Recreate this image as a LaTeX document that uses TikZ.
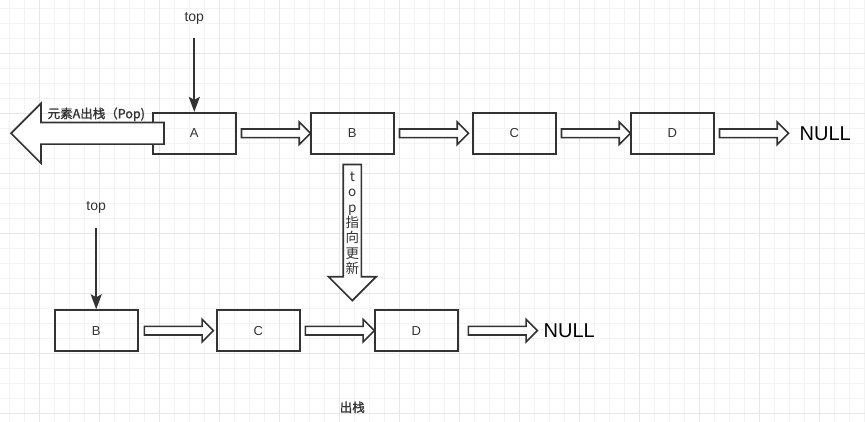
\documentclass[tikz,border=0pt]{standalone}
\usepackage{fontspec}
\setmainfont{Liberation Sans}
\newfontfamily\cjk{Noto Sans CJK SC}
\newfontfamily\cjkm[FakeBold=1.3]{Noto Sans CJK SC}
\usetikzlibrary{shapes.arrows,positioning,arrows.meta}
\definecolor{ink}{HTML}{333333}
\definecolor{gridminor}{HTML}{F3F3F3}
\definecolor{gridmajor}{HTML}{E6E6E6}
\tikzstyle{block} = [draw=ink, line width=1.8pt, rectangle, minimum height=41pt, minimum width=83pt, text=ink, font=\fontsize{13}{15}\selectfont]
\tikzstyle{hollow} = [draw=ink, line width=1.6pt, fill=white, single arrow, single arrow tip angle=90, minimum height=69pt, inner xsep=0pt, inner ysep=3.5pt, single arrow head extend=7pt]
\tikzstyle{bigleft} = [hollow, rotate=180, minimum height=153pt, inner ysep=10pt, single arrow head extend=19pt, line width=1.7pt]
\tikzstyle{bigdown} = [hollow, rotate=-90, minimum height=136pt, inner ysep=8.2pt, single arrow head extend=14.8pt, line width=1.7pt]
\tikzstyle{txt} = [text=ink, font=\fontsize{14}{16}\selectfont]
\tikzstyle{nulltxt} = [text=black, font=\fontsize{20}{24}\selectfont]
\tikzstyle{cjktxt} = [text=ink, font=\cjkm\fontsize{12.5}{15}\selectfont]
\tikzstyle{vtxt} = [text=ink, align=center, inner sep=0pt, font=\cjk\fontsize{13.5}{15.4}\selectfont]

\begin{document}
\begin{tikzpicture}[x=1pt, y=-1pt, >={Stealth[length=15pt, width=11pt, inset=3pt]}]

\useasboundingbox (0,0) rectangle (865,422);
\fill [white] (0,0) rectangle (865,422);
\foreach \x in {9.3,24.3,...,865} \draw [gridminor, line width=0.8pt] (\x,0) -- (\x,422);
\foreach \y in {8.3,23.3,...,422} \draw [gridminor, line width=0.8pt] (0,\y) -- (865,\y);
\foreach \x in {39.3,99.3,...,865} \draw [gridmajor, line width=0.8pt] (\x,0) -- (\x,422);
\foreach \y in {53.3,113.3,...,422} \draw [gridmajor, line width=0.8pt] (0,\y) -- (865,\y);

% stack before pop
\node [block] (A) at (194.3,133.3) {A};
\node [block, right of=A, node distance=158pt] (B) {B};
\node [block, right of=B, node distance=162pt] (C) {C};
\node [block, right of=C, node distance=158pt] (D) {D};
\node [nulltxt, right of=D, node distance=153pt] (null) {NULL};

\node [hollow, right=4pt of A] (AB) {};
\node [hollow, right=4pt of B] (BC) {};
\node [hollow, right=4pt of C] (CD) {};
\node [hollow, right=4pt of D] (DN) {};

\node [coordinate, above of=A, node distance=95pt] (topA) {};
\node [txt, above of=topA, node distance=20pt] (toplabel) {top};
\draw [->, ink, line width=2pt] (topA) -- (A);

\node [bigleft, anchor=tail] (pop) at ([xshift=13pt]A.west) {};
\node [cjktxt, left of=A, node distance=98pt, yshift=19pt] (poptext) {元素A出栈（Pop)};

\node [bigdown, anchor=tail] (update) at ([yshift=-9pt]B.south) {};
\node [vtxt, below of=B, node distance=90pt] (updatetext) {t\\o\\p\\指\\向\\更\\新};

% stack after pop
\node [block] (B2) at (96.2,330.7) {B};
\node [block, right of=B2, node distance=162pt] (C2) {C};
\node [block, right of=C2, node distance=158pt] (D2) {D};
\node [nulltxt, right of=D2, node distance=153pt] (null2) {NULL};

\node [hollow, right=5pt of B2] (BC2) {};
\node [hollow, right=4pt of C2] (CD2) {};
\node [hollow, right=9pt of D2] (DN2) {};

\node [coordinate, above of=B2, node distance=103pt] (topB) {};
\node [txt, above of=topB, node distance=20pt] (toplabel2) {top};
\draw [->, ink, line width=2pt] (topB) -- (B2);

\node [cjktxt, below of=B, node distance=274pt] (caption) {出栈};

\end{tikzpicture}
\end{document}
